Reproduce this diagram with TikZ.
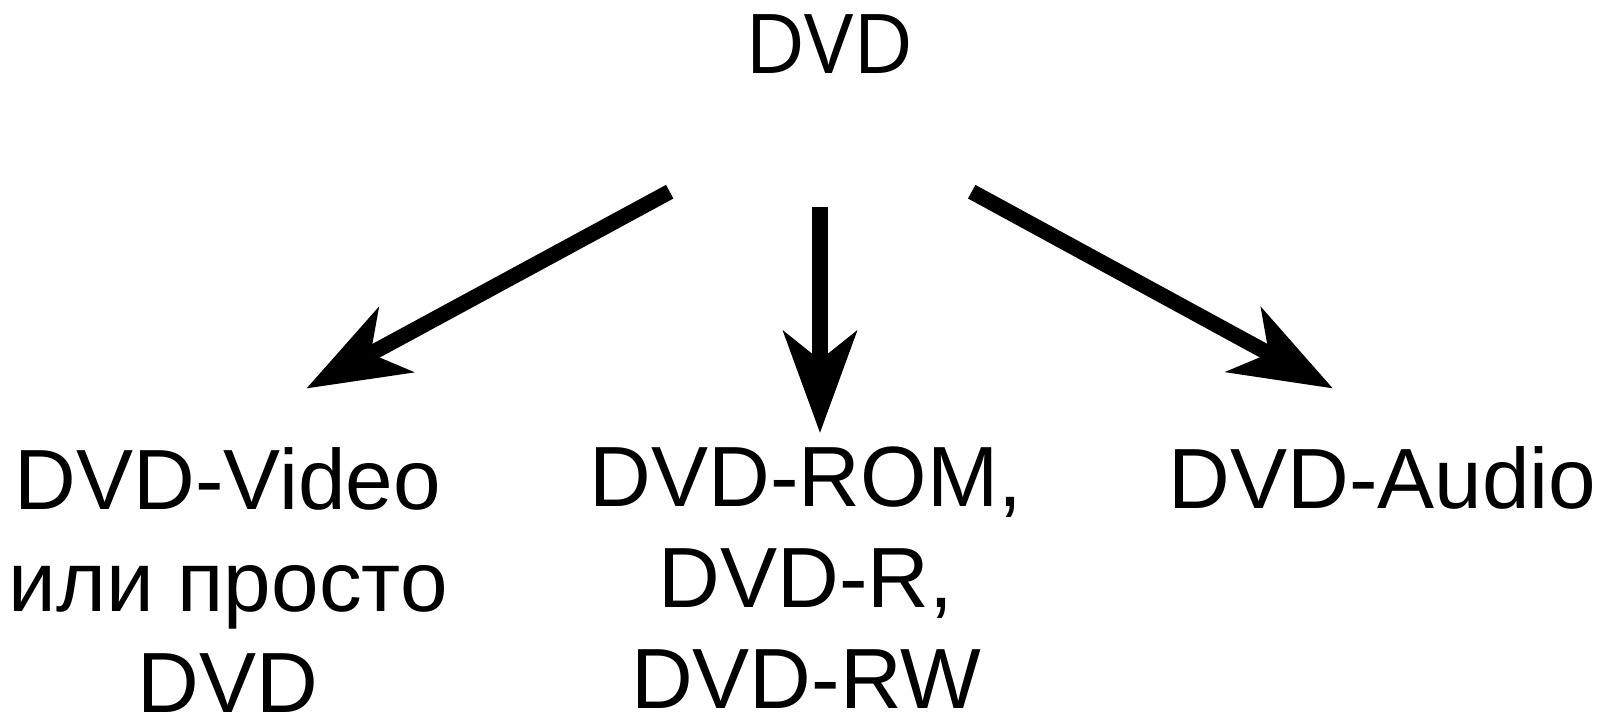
\documentclass[tikz,border=0pt]{standalone}
\usepackage{fontspec}
\setmainfont{Liberation Sans}
\newfontfamily\topfont{Open Sans}
\usetikzlibrary{arrows.meta}
\tikzset{
  lbl/.style={inner sep=0pt, outer sep=0pt, align=center, font=\fontsize{85.5}{101.3}\selectfont, anchor=north},
  toplbl/.style={inner sep=0pt, outer sep=0pt, font=\topfont\fontsize{82.5}{95}\selectfont, anchor=base},
  fat/.style={line width=15.5pt, -{Stealth[length=102.7pt, width=75pt, inset=30pt, line width=0pt]}}
}
\begin{document}
\begin{tikzpicture}[x=1pt, y=-1pt]
\useasboundingbox (0,0) rectangle (1598,715);
\node[toplbl] (dvd) at (829.5,73.3) {DVD};
\node[lbl] (video) at (228,447.8) {DVD-Video\\или просто\\DVD};
\node[lbl] (rom) at (806,446.5) {DVD-ROM,\\DVD-R,\\DVD-RW};
\node[lbl] (audio) at (1382.5,446.5) {DVD-Audio};
\coordinate (sL) at (669.7,191.7);
\coordinate (tL) at (306.7,388.3);
\coordinate (sM) at (820,206.7);
\coordinate (tM) at (820,432.7);
\coordinate (sR) at (971.7,191.7);
\coordinate (tR) at (1332.7,388.3);
\draw[fat] (sL) -- (tL);
\draw[fat] (sM) -- (tM);
\draw[fat] (sR) -- (tR);
\end{tikzpicture}
\end{document}
